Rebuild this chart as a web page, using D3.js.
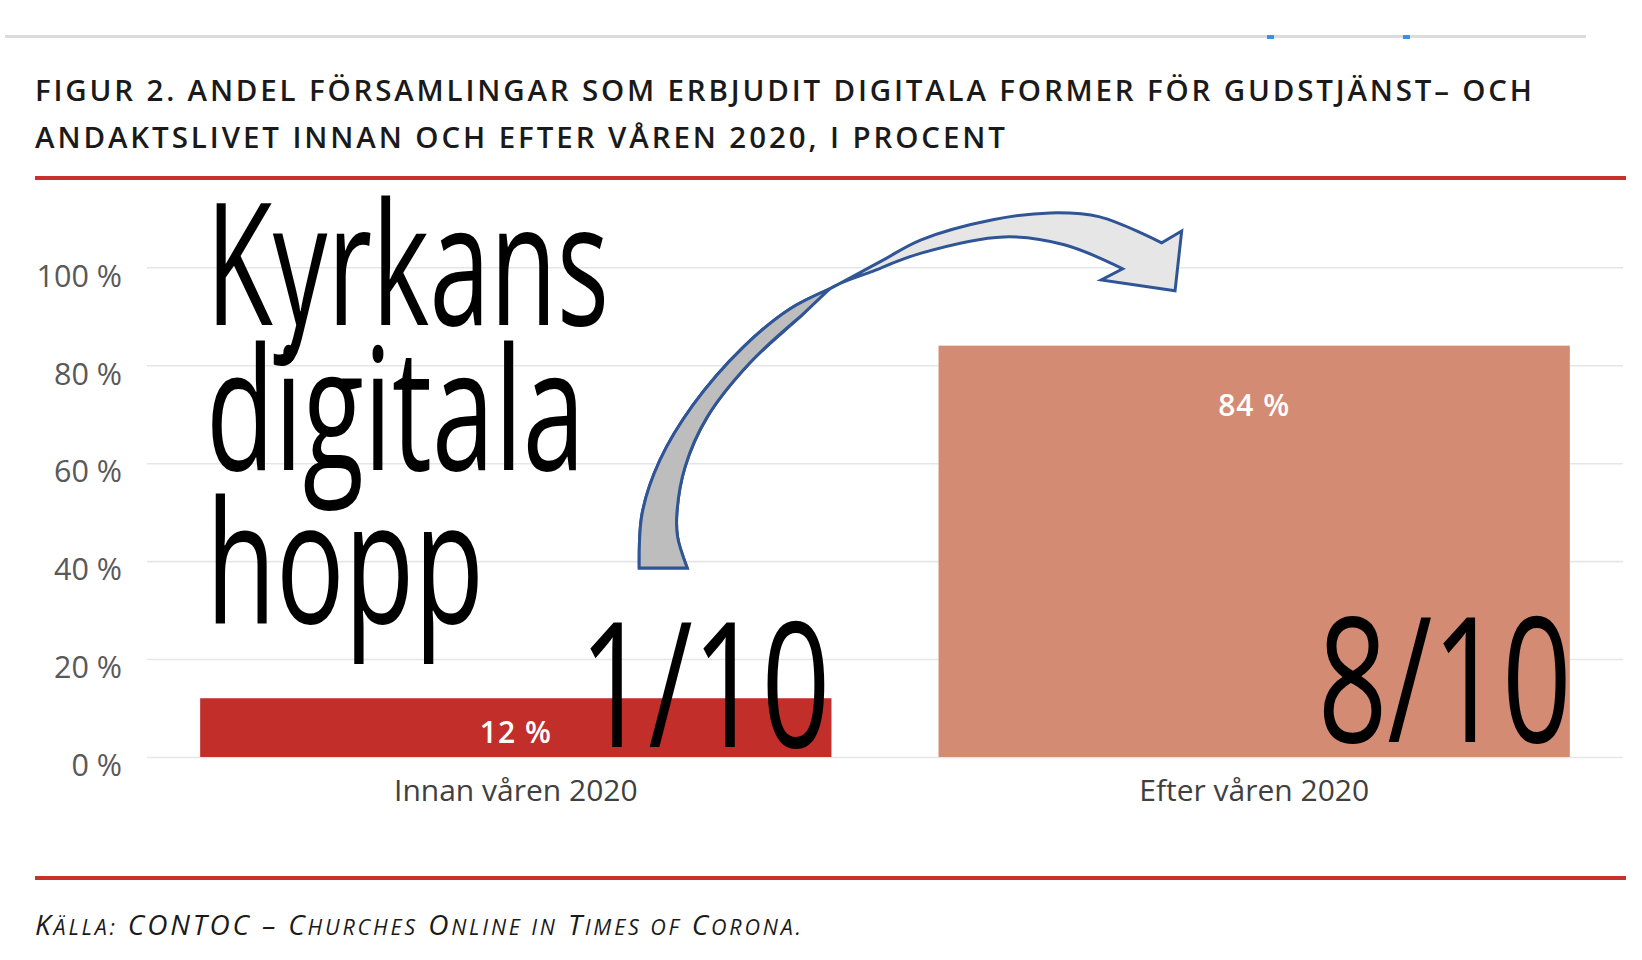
<!DOCTYPE html>
<html>
<head>
<meta charset="utf-8">
<script src="https://cdn.jsdelivr.net/npm/d3@7"></script>
<style>
  body { margin: 0; background: #fff; }
  svg { display: block; }
</style>
</head>
<body>
<svg id="chart" width="1642" height="960"></svg>
<script>
// chart data
let categories = ["Innan våren 2020", "Efter våren 2020"]
let values = [12, 84]
let yTicks = [0, 20, 40, 60, 80, 100]
let barColors = ["#c22e29", "#d48b73"]
let titleLines = [
    "FIGUR 2. ANDEL FÖRSAMLINGAR SOM ERBJUDIT DIGITALA FORMER FÖR GUDSTJÄNST– OCH",
    "ANDAKTSLIVET INNAN OCH EFTER VÅREN 2020, I PROCENT"
]
let headline = ["Kyrkans", "digitala", "hopp"]
let fractions = ["1/10", "8/10"]
// source line, split in full caps / small caps pieces
let sourceParts = [
    ["K", 1], ["ÄLLA:", 0], [" CONTOC – C", 1], ["HURCHES", 0], [" O", 1], ["NLINE IN", 0],
    [" T", 1], ["IMES OF", 0], [" C", 1], ["ORONA.", 0]
]

// arrow annotation, points as [band units, percent]
let arrowUpper = [
    [0.667, 38.6], [0.671, 49.8], [0.695, 60.6], [0.740, 71.9], [0.808, 83.7], [0.871, 91.5],
    [0.925, 95.6], [0.993, 101.1], [1.049, 105.6], [1.146, 109.7], [1.224, 111.1], [1.291, 110.3],
    [1.375, 105.0]
]
let arrowHead = [[1.402, 107.4], [1.393, 95.2], [1.293, 97.4], [1.322, 99.7]]
let arrowInner = [
    [1.322, 99.7], [1.243, 104.6], [1.161, 106.2], [1.049, 102.9], [0.980, 99.0], [0.925, 95.6],
    [0.885, 89.9], [0.817, 80.5], [0.759, 69.4], [0.729, 59.2], [0.718, 49.8], [0.719, 44.9],
    [0.732, 38.6]
]
// index where the band twists (front side above, back side below)
let twist = 6

let svg = d3.select("#chart")
let font = "'Open Sans', 'Noto Sans', sans-serif"

let plotLeft = 147, plotRight = 1623
let y = d3.scaleLinear().domain([0, 100]).range([757, 267.3])
let x = d3.scaleBand().domain(categories).range([plotLeft, plotRight])
    .paddingInner(0.145).paddingOuter(0.072)
let u = d3.scaleLinear().domain([0, 2]).range([plotLeft, plotRight])

// top grey rule with the two little blue marks
svg.append("rect").attr("x", 5).attr("y", 35).attr("width", 1581).attr("height", 3).attr("fill", "#dcdcdc")
svg.selectAll(".blip").data([1270, 1406]).enter().append("rect")
    .attr("x", d => d - 3).attr("y", 35).attr("width", 7).attr("height", 4).attr("fill", "#3d8ee6")

// title
svg.selectAll(".title").data(titleLines).enter().append("text")
    .attr("x", 35).attr("y", (d, i) => 101 + i * 47)
    .attr("font-family", font).attr("font-weight", 600).attr("font-size", 29.5)
    .attr("fill", "#1a1a1a")
    .attr("textLength", (d, i) => i == 0 ? 1497 : 970)
    .attr("lengthAdjust", "spacing")
    .text(d => d)

// red rules
svg.selectAll(".rule").data([178, 878]).enter().append("rect")
    .attr("x", 35).attr("y", d => d - 2).attr("width", 1591).attr("height", 4).attr("fill", "#c7302b")

// y axis with grid
let yAxis = svg.append("g").attr("transform", `translate(${plotLeft},0)`)
    .call(d3.axisLeft(y).tickValues(yTicks).tickSize(-(plotRight - plotLeft)).tickPadding(25)
        .tickFormat(d => d + " %"))
yAxis.select(".domain").remove()
yAxis.selectAll("line").attr("stroke", "#e6e6e6").attr("stroke-width", 1.6)
yAxis.selectAll("text").attr("font-family", font).attr("font-size", 30.5).attr("fill", "#595959").attr("y", 9)

// bars
svg.selectAll(".bar").data(values).enter().append("rect")
    .attr("x", (d, i) => x(categories[i]))
    .attr("y", d => y(d))
    .attr("width", x.bandwidth())
    .attr("height", d => y(0) - y(d))
    .attr("fill", (d, i) => barColors[i])

// value labels
svg.selectAll(".val").data(values).enter().append("text")
    .attr("x", (d, i) => x(categories[i]) + x.bandwidth() / 2)
    .attr("y", d => Math.min(y(d) + 70, (y(d) + y(0)) / 2 + 15))
    .attr("text-anchor", "middle")
    .attr("font-family", font).attr("font-weight", 600).attr("font-size", 30)
    .attr("letter-spacing", 1).attr("fill", "#fff")
    .text(d => d + " %")

// category labels
svg.selectAll(".cat").data(categories).enter().append("text")
    .attr("x", d => x(d) + x.bandwidth() / 2)
    .attr("y", 801)
    .attr("text-anchor", "middle")
    .attr("font-family", font).attr("font-size", 30).attr("fill", "#404040")
    .text(d => d)

// curved arrow
let edge = d3.line().x(d => u(d[0])).y(d => y(d[1])).curve(d3.curveCatmullRom)
let straight = d3.line().x(d => u(d[0])).y(d => y(d[1]))
let join = s => "L" + s.slice(1)
let fullArrow = edge(arrowUpper) + join(straight(arrowHead)) + join(edge(arrowInner)) + "Z"
let backSide = edge(arrowUpper.slice(0, twist + 1)) + join(edge(arrowInner.slice(arrowInner.length - 1 - twist))) + "Z"
svg.append("path").attr("d", fullArrow)
    .attr("fill", "#e6e6e6").attr("stroke", "#2f5597").attr("stroke-width", 3).attr("stroke-linejoin", "miter")
svg.append("path").attr("d", backSide)
    .attr("fill", "#bdbdbd").attr("stroke", "#2f5597").attr("stroke-width", 3)

// headline overlay
svg.selectAll(".head").data(headline).enter().append("text")
    .attr("x", 206).attr("y", (d, i) => [325, 470, 623][i])
    .attr("font-family", font).attr("font-weight", 500).attr("font-size", 171).attr("fill", "#000")
    .attr("textLength", (d, i) => [403, 379, 278][i])
    .attr("lengthAdjust", "spacingAndGlyphs")
    .text(d => d)

// fractions in the bars
svg.selectAll(".frac").data(fractions).enter().append("text")
    .attr("x", (d, i) => x(categories[i]) + x.bandwidth() - 252)
    .attr("y", (d, i) => y(0) - (i == 0 ? 10 : 15))
    .attr("font-family", font).attr("font-size", 174).attr("fill", "#000")
    .attr("textLength", (d, i) => i == 0 ? 251 : 254)
    .attr("lengthAdjust", "spacingAndGlyphs")
    .text(d => d)

// source
let src = svg.append("text").attr("x", 35).attr("y", 935)
    .attr("font-family", font).attr("font-style", "italic").attr("fill", "#1a1a1a")
    .attr("textLength", 766).attr("lengthAdjust", "spacing")
src.selectAll("tspan").data(sourceParts).enter().append("tspan")
    .attr("font-size", d => d[1] ? 28 : 21.5)
    .text(d => d[0])
</script>
</body>
</html>
